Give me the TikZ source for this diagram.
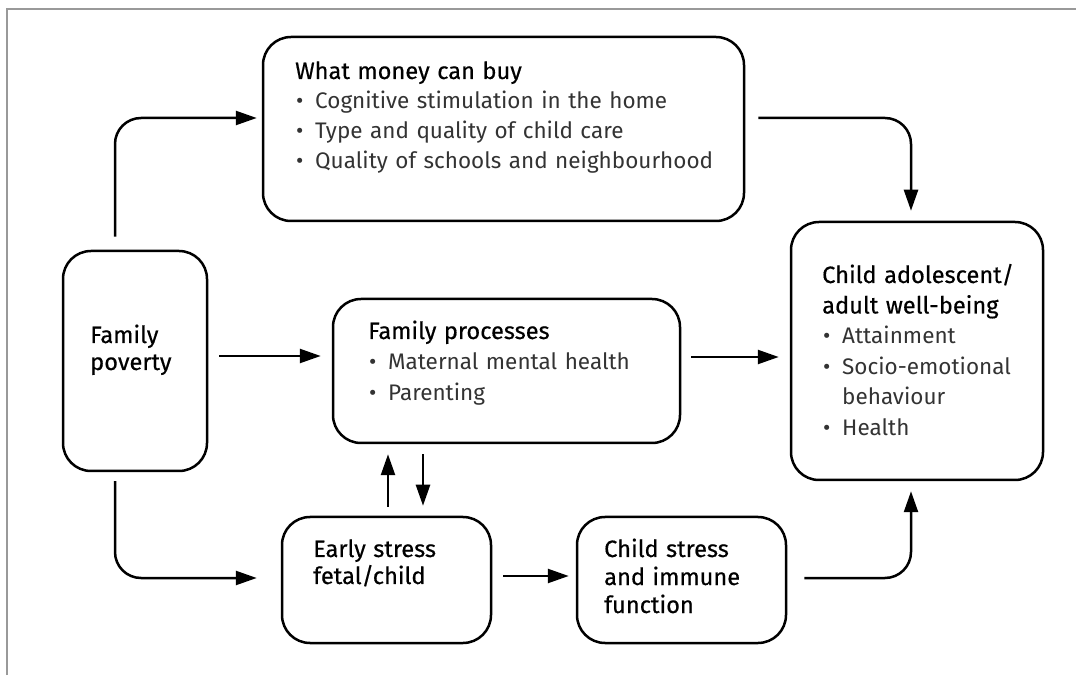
\documentclass[tikz,border=0pt]{standalone}
\usepackage{fontspec}
\setmainfont{Fira Sans}
\newfontfamily\headfont{Fira Sans}[FakeBold=0.5, Scale=1.05]
\usetikzlibrary{arrows.meta}

\newcommand{\bul}{\makebox[20pt][l]{\hspace{1pt}\textbullet}}

\begin{document}
\begin{tikzpicture}[x=1pt, y=1pt,
    box/.style={draw, line width=2.5pt, rounded corners=28pt, inner sep=0pt},
    txt/.style={anchor=base west, inner sep=0pt, align=left, font=\fontsize{22.5}{30}\selectfont},
    arr/.style={line width=2.5pt, rounded corners=26pt, -{Triangle[length=21pt, width=14pt]}}]
    \useasboundingbox (0,0) rectangle (1076,675);
    % frame
    \draw [color=black!40, line width=1.5pt] (7,0) -- (7,666) -- (1076,666);

    % boxes
    \node (money) at (503.5,546) [box, minimum width=481pt, minimum height=184pt] {};
    \node (poverty) at (135,314) [box, minimum width=144pt, minimum height=220pt] {};
    \node (process) at (506.5,304) [box, minimum width=347pt, minimum height=144pt] {};
    \node (wellbeing) at (917,324) [box, minimum width=252pt, minimum height=258pt] {};
    \node (early) at (386.5,95) [box, minimum width=209pt, minimum height=126pt] {};
    \node (cstress) at (681.5,95) [box, minimum width=209pt, minimum height=126pt] {};

    % texts
    \node (moneytxt) at (295,596) [txt, text width=440pt] {{\headfont What money can buy}\\
        \color{black!80}\bul Cognitive stimulation in the home\\
        \bul Type and quality of child care\\
        \bul Quality of schools and neighbourhood};
    \node (povtxt) at (90,332) [txt, text width=110pt, font=\fontsize{22.5}{27}\selectfont] {\headfont Family\\poverty};
    \node (proctxt) at (368,336) [txt, text width=300pt, font=\fontsize{22.5}{31}\selectfont] {{\headfont Family processes}\\
        \color{black!80}\bul Maternal mental health\\
        \bul Parenting};
    \node (welltxt) at (822,392) [txt, text width=215pt, font=\fontsize{22.5}{30.5}\selectfont] {{\headfont Child adolescent/\\adult well-being}\\
        \color{black!80}\bul Attainment\\
        \bul Socio-emotional\\
        \makebox[20pt]{}behaviour\\
        \bul Health};
    \node (earlytxt) at (313,118) [txt, text width=170pt, font=\fontsize{22.5}{27}\selectfont] {\headfont Early stress\\fetal/child};
    \node (cstxt) at (604,118) [txt, text width=170pt, font=\fontsize{22.5}{28}\selectfont] {\headfont Child stress\\and immune\\function};

    % connectors
    \draw [arr] ([xshift=-20pt, yshift=13pt]poverty.north) |- ([xshift=-5pt, yshift=11pt]money.west);
    \draw [arr] ([xshift=13pt, yshift=11pt]money.east) -| ([xshift=-6pt, yshift=10pt]wellbeing.north);
    \draw [arr] ([xshift=11pt, yshift=5pt]poverty.east) -- ([xshift=-11pt, yshift=15pt]process.west);
    \draw [arr] ([xshift=10pt, yshift=14pt]process.east) -- ([xshift=-11pt, yshift=-6pt]wellbeing.west);
    \draw [arr] ([xshift=-20pt, yshift=-9pt]poverty.south) |- ([xshift=-24pt, yshift=2pt]early.west);
    \draw [arr] ([xshift=1.5pt, yshift=9pt]early.north) -- ([xshift=-118.5pt, yshift=-10pt]process.south);
    \draw [arr] ([xshift=-83.5pt, yshift=-10pt]process.south) -- ([xshift=36.5pt, yshift=10pt]early.north);
    \draw [arr] ([xshift=11pt, yshift=4pt]early.east) -- ([xshift=-7pt, yshift=4pt]cstress.west);
    \draw [arr] ([xshift=17pt, yshift=2pt]cstress.east) -| ([xshift=-6pt, yshift=-10pt]wellbeing.south);
\end{tikzpicture}
\end{document}
